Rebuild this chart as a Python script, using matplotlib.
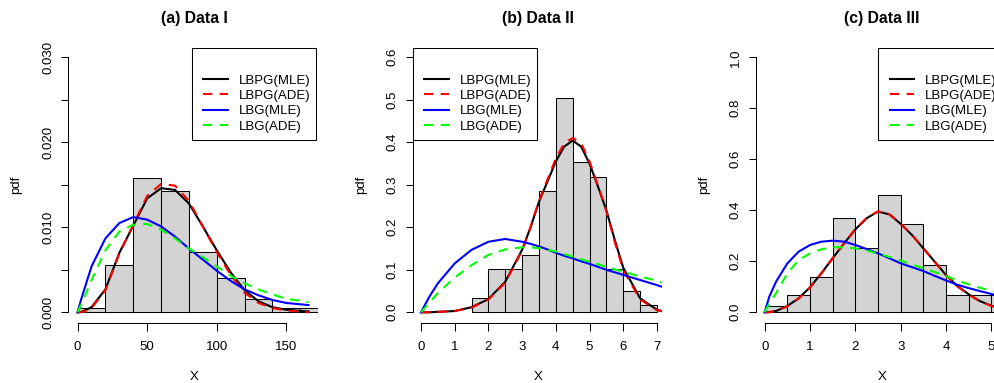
import numpy as np
import matplotlib.pyplot as plt
from matplotlib.patches import Rectangle
from matplotlib.lines import Line2D

plt.rcParams['font.family'] = ['Liberation Sans', 'DejaVu Sans']

W, H = 994, 383

# ---- (a) Data I ----
a_breaks = [0, 20, 40, 60, 80, 100, 120, 140, 160, 180]
a_density = [0.00047, 0.00557, 0.0158, 0.01427, 0.00714, 0.00408, 0.00153, 0.00047, 0.00047]
a_x = [0, 2.5, 5, 10, 20, 30, 40, 50, 60, 70, 80, 90, 100, 110, 120, 130, 140, 150, 166]
a_lbpg_mle = [0, 0.00005, 0.0002, 0.0006, 0.0027, 0.0070, 0.0102, 0.0134, 0.0146, 0.0144,
              0.0128, 0.0101, 0.0073, 0.0047, 0.0026, 0.0013, 0.0006, 0.0003, 0.0001]
a_lbpg_ade = [0, 0.0, 0.0001, 0.0005, 0.0026, 0.0069, 0.0103, 0.0137, 0.0151, 0.0149,
              0.0131, 0.0101, 0.0071, 0.0044, 0.0023, 0.0011, 0.0005, 0.0002, 0.0]
a_lbg_mle = [0, 0.0015, 0.0028, 0.0054, 0.0087, 0.0105, 0.0112, 0.0109, 0.0101, 0.0089,
             0.0075, 0.0062, 0.0049, 0.0037, 0.0027, 0.0020, 0.00145, 0.0011, 0.00085]
a_lbg_ade = [0, 0.0009, 0.0018, 0.0038, 0.0073, 0.0095, 0.0103, 0.0104, 0.0097, 0.0087,
             0.0075, 0.0065, 0.0054, 0.0043, 0.0034, 0.0027, 0.0021, 0.0016, 0.0012]

# ---- (b) Data II ----
b_breaks = [1.5, 2, 2.5, 3, 3.5, 4, 4.5, 5, 5.5, 6, 6.5, 7]
b_density = [0.033, 0.101, 0.101, 0.134, 0.286, 0.504, 0.353, 0.319, 0.101, 0.050, 0.017]
b_x = [0, 0.25, 0.5, 1, 1.5, 2, 2.5, 3, 3.25, 3.5, 3.75, 4, 4.25, 4.5, 4.75, 5,
       5.25, 5.5, 5.75, 6, 6.5, 7, 7.15]
b_lbpg_mle = [0, 0, 0.001, 0.003, 0.012, 0.031, 0.072, 0.147, 0.200, 0.260, 0.307, 0.355,
              0.390, 0.404, 0.390, 0.350, 0.296, 0.240, 0.170, 0.105, 0.033, 0.006, 0.003]
b_lbpg_ade = [0, 0, 0.001, 0.003, 0.011, 0.030, 0.070, 0.145, 0.200, 0.262, 0.312, 0.362,
              0.398, 0.410, 0.398, 0.355, 0.298, 0.238, 0.165, 0.100, 0.030, 0.005, 0.002]
b_lbg_mle = [0, 0.037, 0.068, 0.115, 0.147, 0.166, 0.1725, 0.166, 0.161, 0.155, 0.148, 0.140,
             0.133, 0.127, 0.120, 0.114, 0.107, 0.100, 0.094, 0.088, 0.076, 0.064, 0.060]
b_lbg_ade = [0, 0.023, 0.045, 0.082, 0.111, 0.135, 0.148, 0.153, 0.153, 0.151, 0.147, 0.143,
             0.137, 0.131, 0.125, 0.119, 0.113, 0.107, 0.101, 0.096, 0.084, 0.0745, 0.070]

# ---- (c) Data III ----
c_breaks = [0, 0.5, 1, 1.5, 2, 2.5, 3, 3.5, 4, 4.5, 5, 5.5]
c_density = [0.023, 0.069, 0.138, 0.368, 0.253, 0.460, 0.345, 0.184, 0.069, 0.069, 0.069]
c_x = [0, 0.1, 0.25, 0.5, 0.75, 1, 1.25, 1.5, 1.75, 2, 2.25, 2.5, 2.75, 3, 3.25, 3.5,
       3.75, 4, 4.25, 4.5, 4.75, 5, 5.1]
c_lbpg_mle = [0, 0.001, 0.005, 0.025, 0.055, 0.098, 0.153, 0.212, 0.270, 0.325, 0.369, 0.395,
              0.384, 0.347, 0.303, 0.251, 0.199, 0.146, 0.103, 0.071, 0.044, 0.026, 0.021]
c_lbpg_ade = [0, 0.0, 0.004, 0.024, 0.054, 0.097, 0.152, 0.212, 0.271, 0.326, 0.370, 0.396,
              0.385, 0.348, 0.303, 0.251, 0.198, 0.145, 0.102, 0.069, 0.043, 0.025, 0.020]
c_lbg_mle = [0, 0.061, 0.120, 0.192, 0.238, 0.264, 0.277, 0.281, 0.277, 0.264, 0.248, 0.231,
             0.212, 0.192, 0.177, 0.162, 0.143, 0.125, 0.108, 0.095, 0.083, 0.072, 0.067]
c_lbg_ade = [0, 0.035, 0.075, 0.153, 0.205, 0.231, 0.247, 0.255, 0.255, 0.251, 0.242, 0.231,
             0.217, 0.203, 0.188, 0.173, 0.158, 0.142, 0.125, 0.110, 0.096, 0.085, 0.081]

names = ['LBPG(MLE)', 'LBPG(ADE)', 'LBG(MLE)', 'LBG(ADE)']
colours = ['black', 'red', 'blue', '#00ff00']
dashed = [False, True, False, True]

fig = plt.figure(figsize=(W / 100, H / 100), dpi=100)


def fx(px):
    return px / W


def fy(py):
    return 1 - py / H


TOP, BOT = 47.1, 322.5
FS = 9.5


def style(i):
    if dashed[i]:
        return dict(color=colours[i], lw=1.5, dashes=(4.5, 3.5))
    return dict(color=colours[i], lw=1.5)


def panel(left, crop, xlim, ylim, breaks, dens, x, curves, xticks, yticks, ylabels,
          title, centre, leg_left):
    ax = fig.add_axes([fx(left), fy(BOT), (crop - left) / W, (BOT - TOP) / H])
    ax.bar(breaks[:-1], dens, width=np.diff(breaks), align='edge',
           color='#d3d3d3', edgecolor='black', linewidth=0.75)
    for i, ys in enumerate(curves):
        ax.plot(x, ys, **style(i))
    ax.set_xlim(xlim)
    ax.set_ylim(ylim)
    ax.spines[['top', 'right']].set_visible(False)
    ax.spines['bottom'].set_bounds(xticks[0], xticks[-1])
    ax.spines['left'].set_bounds(yticks[0], yticks[-1])
    for s in ('bottom', 'left'):
        ax.spines[s].set_linewidth(0.75)
    ax.set_xticks(xticks)
    ax.set_xticklabels([str(t) for t in xticks])
    ax.set_yticks(yticks)
    ax.set_yticklabels(ylabels, rotation=90, va='center')
    ax.tick_params(direction='out', length=5.4, width=0.75, labelsize=FS)
    ax.tick_params(axis='x', pad=8.0)
    ax.tick_params(axis='y', pad=4.6)
    ax.patch.set_alpha(0)

    fig.text(fx(centre), fy(22.7), title, ha='center', va='baseline',
             fontsize=11.3, fontweight='bold')
    fig.text(fx(centre), fy(380), 'X', ha='center', va='baseline', fontsize=FS)
    fig.text(fx(left - 52), fy((TOP + BOT) / 2), 'pdf', rotation=90,
             ha='center', va='center', fontsize=FS)

    # legend box
    fig.add_artist(Rectangle((fx(leg_left), fy(140.3)), 124.5 / W, 92 / H,
                             transform=fig.transFigure, facecolor='white',
                             edgecolor='black', lw=0.75))
    for i, name in enumerate(names):
        y = 79 + 15.4 * i
        fig.add_artist(Line2D([fx(leg_left + 11.6), fx(leg_left + 35.8)], [fy(y), fy(y)],
                              transform=fig.transFigure, **style(i)))
        fig.text(fx(leg_left + 46.8), fy(y + 4.6), name, va='baseline', fontsize=FS)
    return ax


panel(68.3, 318, (-6.7, 172.8), (-0.0012, 0.0312), a_breaks, a_density, a_x,
      [a_lbpg_mle, a_lbpg_ade, a_lbg_mle, a_lbg_ade],
      [0, 50, 100, 150], [0, 0.005, 0.01, 0.015, 0.02, 0.025, 0.03],
      ['0.000', '', '0.010', '', '0.020', '', '0.030'],
      '(a) Data I', 194.5, 191.7)

panel(412.7, 662, (-0.246, 7.15), (-0.024, 0.624), b_breaks, b_density, b_x,
      [b_lbpg_mle, b_lbpg_ade, b_lbg_mle, b_lbg_ade],
      [0, 1, 2, 3, 4, 5, 6, 7], [0, 0.1, 0.2, 0.3, 0.4, 0.5, 0.6],
      ['0.0', '0.1', '0.2', '0.3', '0.4', '0.5', '0.6'],
      '(b) Data II', 538.3, 412.7)

panel(755.7, 994, (-0.199, 5.06), (-0.04, 1.04), c_breaks, c_density, c_x,
      [c_lbpg_mle, c_lbpg_ade, c_lbg_mle, c_lbg_ade],
      [0, 1, 2, 3, 4, 5], [0, 0.2, 0.4, 0.6, 0.8, 1.0],
      ['0.0', '0.2', '0.4', '0.6', '0.8', '1.0'],
      '(c) Data III', 882, 878.3)

fig.savefig('out.png', dpi=100)
